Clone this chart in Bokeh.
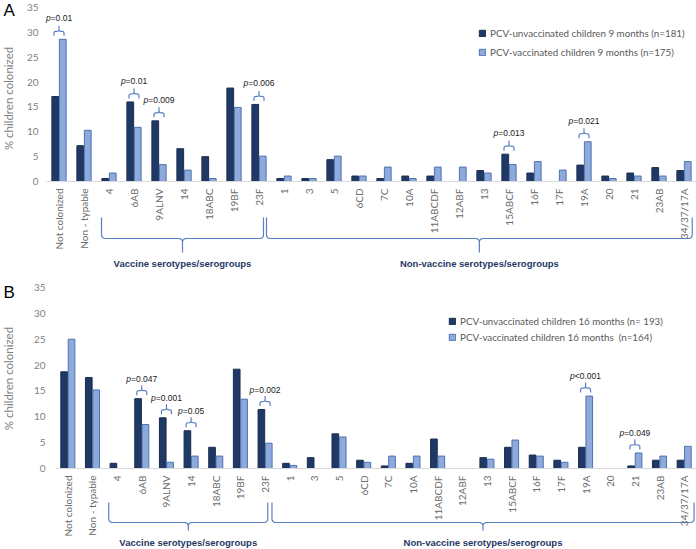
import math
import numpy as np
from bokeh.plotting import figure
from bokeh.layouts import column
from bokeh.models import ColumnDataSource, FixedTicker, Range1d, Legend, LegendItem
from bokeh.transform import dodge
from bokeh.embed import file_html
from bokeh.resources import INLINE
from bokeh.core.properties import value

# ---------------- data ----------------
categories = ["Not colonized", "Non - typable", "4", "6AB", "9ALNV", "14", "18ABC", "19BF", "23F",
              "1", "3", "5", "6CD", "7C", "10A", "11ABCDF", "12ABF", "13", "15ABCF", "16F", "17F",
              "19A", "20", "21", "23AB", "34/37/17A"]
vaccine_group = ["4", "6AB", "9ALNV", "14", "18ABC", "19BF", "23F"]
nonvaccine_group = ["1", "3", "5", "6CD", "7C", "10A", "11ABCDF", "12ABF", "13", "15ABCF", "16F",
                    "17F", "19A", "20", "21", "23AB", "34/37/17A"]
group_labels = ["Vaccine serotypes/serogroups", "Non-vaccine serotypes/serogroups"]
y_ticks = [0, 5, 10, 15, 20, 25, 30, 35]
y_title = "% children colonized"

a_unvacc = [17.1, 7.2, 0.6, 16.0, 12.2, 6.6, 5.0, 18.8, 15.5, 0.6, 0.6, 4.4, 1.1, 0.6, 1.1, 1.1,
            0.0, 2.2, 5.5, 1.7, 0.0, 3.3, 1.1, 1.7, 2.8, 2.2]
a_vacc = [28.6, 10.3, 1.7, 10.9, 3.4, 2.3, 0.6, 14.9, 5.1, 1.1, 0.6, 5.1, 1.1, 2.9, 0.6, 2.9,
          2.9, 1.7, 3.4, 4.0, 2.3, 8.0, 0.6, 1.1, 1.1, 4.0]
a_legend = ["PCV-unvaccinated children 9 months (n=181)", "PCV-vaccinated children 9 months (n=175)"]
a_p_cats = ["Not colonized", "6AB", "9ALNV", "23F", "15ABCF", "19A"]
a_p_vals = ["=0.01", "=0.01", "=0.009", "=0.006", "=0.013", "=0.021"]

b_unvacc = [18.7, 17.6, 1.0, 13.5, 9.8, 7.3, 4.1, 19.2, 11.4, 1.0, 2.1, 6.7, 1.6, 0.5, 1.0, 5.7,
            0.0, 2.1, 4.1, 2.6, 1.6, 4.1, 0.0, 0.5, 1.6, 1.6]
b_vacc = [25.0, 15.2, 0.0, 8.5, 1.2, 2.4, 2.4, 13.4, 4.9, 0.6, 0.0, 6.1, 1.2, 2.4, 2.4, 2.4,
          0.0, 1.8, 5.5, 2.4, 1.2, 14.0, 0.0, 3.0, 2.4, 4.3]
b_legend = ["PCV-unvaccinated children 16 months (n= 193)", "PCV-vaccinated children 16 months  (n=164)"]
b_p_cats = ["6AB", "9ALNV", "14", "23F", "19A", "21"]
b_p_vals = ["=0.047", "=0.001", "=0.05", "=0.002", "<0.001", "=0.049"]

# ---------------- style ----------------
DARK = "#203864"
DARK_LINE = "#1a2d50"
LIGHT = "#8eaadb"
LIGHT_LINE = "#4d72b4"
BRACE = "#5a80c2"
GRAY = "#7f7f7f"
CAT_GRAY = "#6b6b6b"
W = 696

ARIAL_W = {"p": .556, "=": .584, "<": .584, ".": .278}


def quad(p0, c, p1, k=7):
    t = np.linspace(0, 1, k)
    xs = (1 - t) ** 2 * p0[0] + 2 * (1 - t) * t * c[0] + t ** 2 * p1[0]
    ys = (1 - t) ** 2 * p0[1] + 2 * (1 - t) * t * c[1] + t ** 2 * p1[1]
    return list(zip(xs, ys))


def brace_px(half, y_end, y_mid, y_tip, r):
    s = 1 if y_mid > y_end else -1
    pts = [(-half, y_end), (-half, y_mid - s * r)]
    pts += quad((-half, y_mid - s * r), (-half, y_mid), (-half + r, y_mid))
    pts += quad((-r, y_mid), (0, y_mid), (0, y_mid + s * r))
    pts += [(0, y_tip), (0, y_mid + s * r)]
    pts += quad((0, y_mid + s * r), (0, y_mid), (r, y_mid))
    pts += quad((half - r, y_mid), (half, y_mid), (half, y_mid - s * r))
    pts += [(half, y_end)]
    return pts


def make_panel(h, axis_left_px, zero_px, top_px, unv, vac, p_cats, p_vals, labels, letter, st):
    n = len(categories)
    cat_px = (W - axis_left_px) / n
    x_start = -0.5 - axis_left_px / cat_px
    x_end = x_start + W / cat_px
    ymax = y_ticks[-1]
    upx = (zero_px - top_px) / ymax
    y_end = ymax + top_px / upx
    y_start = -(h - zero_px) / upx

    def fx(px):
        return x_start + px / cat_px

    def fy(py):
        return y_end - py / upx

    p = figure(width=W, height=h, x_range=Range1d(x_start, x_end), y_range=Range1d(y_start, y_end),
               output_backend="svg", toolbar_location=None, title=None,
               min_border_left=0, min_border_right=0, min_border_top=0, min_border_bottom=0)
    p.outline_line_color = None
    p.xgrid.visible = False
    p.ygrid.visible = False
    p.background_fill_color = "white"
    p.border_fill_color = "white"

    xa = p.xaxis[0]
    xa.fixed_location = 0
    xa.bounds = (-0.5, n - 0.5)
    xa.ticker = FixedTicker(ticks=list(range(n)))
    xa.major_label_overrides = {i: c for i, c in enumerate(categories)}
    xa.major_label_orientation = math.pi / 2
    xa.axis_line_color = "#d9d9d9"
    xa.axis_line_width = 1
    xa.major_tick_line_color = None
    xa.minor_tick_line_color = None
    xa.major_tick_out = 0
    xa.major_tick_in = 0
    xa.major_label_standoff = st["xstand"]
    xa.major_label_text_font = "Lato"
    xa.major_label_text_font_size = "10px"
    xa.major_label_text_color = CAT_GRAY

    ya = p.yaxis[0]
    ya.fixed_location = -0.5
    ya.ticker = FixedTicker(ticks=y_ticks)
    ya.axis_line_color = None
    ya.major_tick_line_color = None
    ya.minor_tick_line_color = None
    ya.major_tick_out = 0
    ya.major_tick_in = 0
    ya.major_label_standoff = st["ystand"]
    ya.major_label_text_font = "Lato"
    ya.major_label_text_font_size = "10px"
    ya.major_label_text_color = GRAY

    src = ColumnDataSource(dict(
        idx=list(range(n)),
        unv=[v if v > 0 else float("nan") for v in unv],
        vac=[v if v > 0 else float("nan") for v in vac],
    ))
    r1 = p.vbar(x=dodge("idx", -0.15), top="unv", bottom=0, width=0.27, source=src,
                fill_color=DARK, line_color=DARK_LINE, line_width=1)
    r2 = p.vbar(x=dodge("idx", 0.15), top="vac", bottom=0, width=0.27, source=src,
                fill_color=LIGHT, line_color=LIGHT_LINE, line_width=1)

    # p-value annotations
    bx, by = [], []
    t_x, t_y, t_rest = [], [], []
    fs = st["pfs"]
    for cat, txt in zip(p_cats, p_vals):
        i = categories.index(cat)
        T = max(unv[i], vac[i])
        pts = brace_px(5.0, 3.5, 8.0, 13.5, 2.0)
        bx.append([i + dx / cat_px for dx, _ in pts])
        by.append([T + dy / upx for _, dy in pts])
        w_p = ARIAL_W["p"]
        w_rest = sum(ARIAL_W.get(ch, .556) for ch in txt)
        anchor = (w_p - w_rest) / 2 * fs
        t_x.append(i + anchor / cat_px)
        t_y.append(T + st["ptext"] / upx)
        t_rest.append(txt)
    p.multi_line(bx, by, line_color=BRACE, line_width=1.2)
    p.text(t_x, t_y, text=["p"] * len(t_x), text_align="right", text_baseline="middle",
           text_font=value("Liberation Sans"), text_font_style="italic",
           text_font_size=f"{fs}px", text_color="#1a1a1a")
    p.text(t_x, t_y, text=t_rest, text_align="left", text_baseline="middle",
           text_font=value("Liberation Sans"), text_font_size=f"{fs}px", text_color="#1a1a1a")

    # group braces
    gx, gy, lx = [], [], []
    for grp, (lpad, rpad) in zip([vaccine_group, nonvaccine_group], st["gpads"]):
        i0 = categories.index(grp[0]) - lpad
        i1 = categories.index(grp[-1]) + rpad
        c = (i0 + i1) / 2
        half = (i1 - i0) / 2 * cat_px
        pts = brace_px(half, -st["g_end"], -st["g_mid"], -st["g_tip"], 4.0)
        gx.append([c + dx / cat_px for dx, _ in pts])
        gy.append([dy / upx for _, dy in pts])
        lx.append(c)
    p.multi_line(gx, gy, line_color=BRACE, line_width=1.2)
    p.text(lx, [-st["g_lab"] / upx] * 2, text=group_labels, text_align="center",
           text_baseline="middle", text_font=value("Liberation Sans"), text_font_style="bold",
           text_font_size="9.5px", text_color="#1f3864")

    # y-axis title and panel letter
    p.text([fx(st["ytitle_x"])], [st["ytitle_y"]], text=[y_title], angle=math.pi / 2,
           text_align="center", text_baseline="middle", text_font=value("Lato"),
           text_font_size="11.5px", text_color=GRAY)
    p.text([fx(3)], [fy(st["letter_y"])], text=[letter], text_align="left",
           text_baseline="middle", text_font=value("Liberation Sans"), text_font_size="17px",
           text_color="#000000")

    legend = Legend(items=[LegendItem(label=labels[0], renderers=[r1]),
                           LegendItem(label=labels[1], renderers=[r2])],
                    location=st["legloc"], orientation="vertical", padding=0, margin=0,
                    spacing=st["legsp"], glyph_width=8, glyph_height=8,
                    label_height=st["leglh"], label_standoff=4,
                    label_text_font="Lato", label_text_font_size="9.8px",
                    label_text_color="#595959", border_line_color=None,
                    background_fill_alpha=0)
    p.add_layout(legend)
    return p


pA = make_panel(280, 46, 181, 7, a_unvacc, a_vacc, a_p_cats, a_p_vals, a_legend, "A",
                dict(xstand=7, ystand=8, pfs=8.5, ptext=21, gpads=[(0.3, 0.18), (0.7, 0.33)],
                     g_end=36, g_mid=57, g_tip=71, g_lab=82, ytitle_x=8, ytitle_y=16.7,
                     letter_y=10, legloc=(478, 220), legsp=3, leglh=16))
pB = make_panel(269, 55, 188, 7, b_unvacc, b_vacc, b_p_cats, b_p_vals, b_legend, "B",
                dict(xstand=7, ystand=10, pfs=8.5, ptext=20, gpads=[(0.34, 0.11), (0.72, 0.4)],
                     g_end=34, g_mid=54, g_tip=62, g_lab=74, ytitle_x=8, ytitle_y=17.4,
                     letter_y=12, legloc=(448, 205), legsp=2, leglh=14))

layout = column(pA, pB, spacing=0)
open("out.html", "w").write(file_html(layout, INLINE))
